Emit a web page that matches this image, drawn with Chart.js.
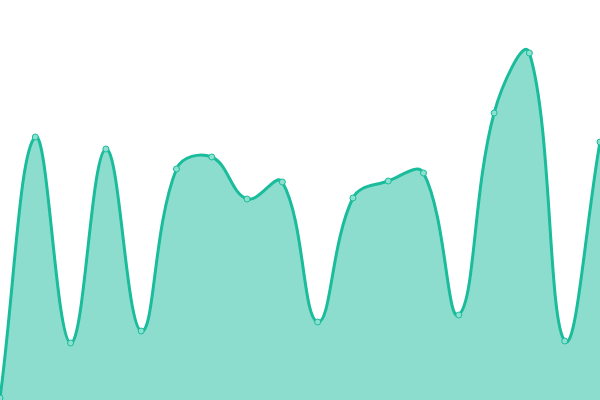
<!DOCTYPE html>
<html>
<head>
<meta charset="utf-8">
<script src="https://cdn.jsdelivr.net/npm/chart.js@4"></script>
<style>
  html, body { margin: 0; padding: 0; background: #fff; }
  #wrap { width: 600px; height: 400px; }
</style>
</head>
<body>
<div id="wrap"><canvas id="areaChart"></canvas></div>
<script>
// dữ liệu
const labels = ["1", "2", "3", "4", "5", "6", "7", "8", "9", "10", "11", "12", "13", "14", "15", "16", "17", "18"];
const values = [2, 263, 57, 251, 69, 231, 243, 201, 218, 78, 202, 219, 227, 85, 287, 347, 59, 258];

const ctx = document.getElementById("areaChart").getContext("2d");
new Chart(ctx, {
  type: "line",
  data: {
    labels: labels,
    datasets: [{
      data: values,
      fill: true,
      backgroundColor: "rgba(26, 188, 156, 0.5)",
      borderColor: "#1abc9c",
      borderWidth: 3,
      tension: 0.4,
      pointRadius: 3,
      pointBorderWidth: 1,
      pointBackgroundColor: "#8ce0cf",
      pointBorderColor: "#1abc9c"
    }]
  },
  options: {
    responsive: true,
    maintainAspectRatio: false,
    animation: false,
    layout: { padding: 0, autoPadding: false },
    plugins: {
      legend: { display: false },
      tooltip: { enabled: false }
    },
    scales: {
      x: { display: false, offset: false },
      y: { display: false, min: 0, max: 400 }
    }
  }
});
</script>
</body>
</html>
